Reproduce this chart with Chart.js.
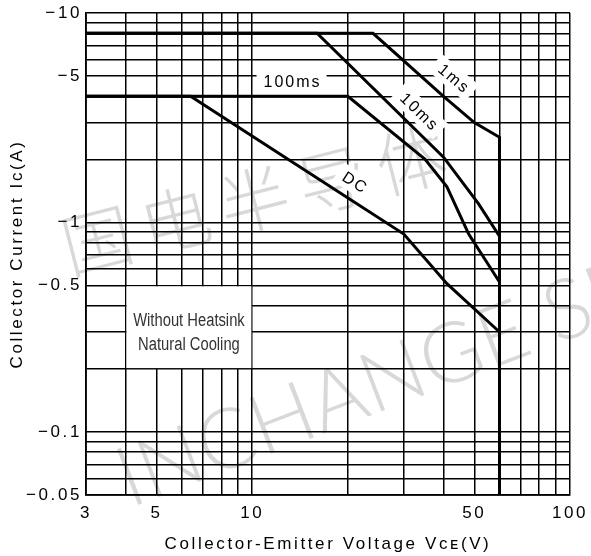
<!DOCTYPE html>
<html>
<head>
<meta charset="utf-8">
<script src="https://cdn.jsdelivr.net/npm/chart.js@4.4.1/dist/chart.umd.min.js"></script>
<style>
html, body { margin: 0; padding: 0; background: #fff; }
#wrap { width: 591px; height: 556px; }
</style>
</head>
<body>
<div id="wrap"><canvas id="soa"></canvas></div>
<script>
// GRID AND TICK LABELS (VCE in V, |IC| in A)
const xGrid = [3, 4, 5, 6, 7, 8, 9, 10, 20, 30, 40, 50, 60, 70, 80, 90, 100];
const xLabels = [3, 5, 10, 50, 100];
const yGrid = [0.05, 0.06, 0.07, 0.08, 0.09, 0.1, 0.2, 0.3, 0.4, 0.5, 0.6, 0.7, 0.8, 0.9, 1, 2, 3, 4, 5, 6, 7, 8, 9, 10];
const yLabels = [10, 5, 1, 0.5, 0.1, 0.05];

// SAFE OPERATING AREA CURVES
const dcV = [3, 6.4, 13, 30, 41, 60];
const dcI = [4, 4, 2.0, 0.88, 0.51, 0.3];
const ms100V = [3, 20, 35, 41, 48, 60];
const ms100I = [4, 4, 2.0, 1.48, 0.88, 0.52];
const ms10V = [3, 16, 40, 51.5, 60];
const ms10I = [8, 8, 2.05, 1.23, 0.86];
const ms1V = [3, 24, 40, 50, 60, 60];
const ms1I = [8, 8, 4, 3.0, 2.55, 0.05];

// labels put on the curves
const curveNotes = [
  { text: '100ms', v: 13.3, i: 4.73, angle: 0 },
  { text: '1ms', v: 43, i: 4.9, angle: 40 },
  { text: '10ms', v: 33.5, i: 3.4, angle: 44 },
  { text: 'DC', v: 21, i: 1.56, angle: 33 }
];
const noteLines = ['Without Heatsink', 'Natural Cooling'];

const FONT = '"Liberation Sans", Arial, sans-serif';
const SPACING = '2.6px';

function pts(vs, is) {
  return vs.map((v, k) => ({ x: v, y: is[k] }));
}

function curve(data) {
  return { data: data, borderColor: '#000', borderWidth: 3, pointRadius: 0, fill: false, tension: 0 };
}

// watermark, label boxes, letter spacing
const decor = {
  id: 'decor',
  beforeLayout(chart) {
    chart.ctx.letterSpacing = SPACING;
  },
  beforeDraw(chart) {
    const ctx = chart.ctx;
    ctx.letterSpacing = SPACING;
    ctx.save();
    ctx.fillStyle = '#fff';
    ctx.fillRect(0, 0, chart.width, chart.height);
    ctx.letterSpacing = '0px';
    ctx.fillStyle = '#d8d8d8';
    ctx.textAlign = 'center';
    ctx.textBaseline = 'middle';

    ctx.save();
    ctx.translate(97, 240);
    ctx.rotate(-14.3 * Math.PI / 180);
    ctx.font = '300 70px "Noto Sans CJK SC", sans-serif';
    const wm = '国电半导体';
    for (let k = 0; k < wm.length; k++) {
      ctx.fillText(wm[k], k * 81, 0);
    }
    ctx.restore();

    ctx.save();
    ctx.translate(130, 508);
    ctx.rotate(-21 * Math.PI / 180);
    ctx.font = '300 84px Lato, "Open Sans", sans-serif';
    ctx.textAlign = 'left';
    ctx.textBaseline = 'alphabetic';
    ctx.fillText('INCHANGE SEMI', 0, 0);
    ctx.restore();

    ctx.restore();
  },
  beforeDatasetsDraw(chart) {
    const ctx = chart.ctx;
    const x = chart.scales.x, y = chart.scales.y;

    // box with the cooling note
    const bx1 = x.getPixelForValue(4), bx2 = x.getPixelForValue(10);
    const by1 = y.getPixelForValue(0.5), by2 = y.getPixelForValue(0.2);
    ctx.save();
    ctx.fillStyle = '#fff';
    ctx.fillRect(bx1 + 0.8, by1 + 0.8, bx2 - bx1 - 1.6, by2 - by1 - 1.6);
    ctx.letterSpacing = '0px';
    ctx.fillStyle = '#333';
    ctx.font = '18px ' + FONT;
    ctx.textAlign = 'center';
    ctx.textBaseline = 'middle';
    const h = by2 - by1;
    ctx.translate((bx1 + bx2) / 2, by1);
    ctx.scale(0.82, 1);
    ctx.fillText(noteLines[0], 0, 0.42 * h);
    ctx.fillText(noteLines[1], 0, 0.71 * h);
    ctx.restore();

    curveNotes.forEach(n => {
      const px = x.getPixelForValue(n.v), py = y.getPixelForValue(n.i);
      ctx.save();
      ctx.translate(px, py);
      ctx.rotate(n.angle * Math.PI / 180);
      ctx.letterSpacing = '2px';
      ctx.font = '16px ' + FONT;
      const w = ctx.measureText(n.text).width;
      ctx.fillStyle = '#fff';
      ctx.fillRect(-w / 2 - 6, -11, w + 12, 22);
      ctx.fillStyle = '#000';
      ctx.textAlign = 'center';
      ctx.textBaseline = 'middle';
      ctx.fillText(n.text, 1, 1);
      ctx.restore();
    });
  }
};

const soaChart = new Chart(document.getElementById('soa'), {
  type: 'line',
  data: {
    datasets: [
      curve(pts(dcV, dcI)),
      curve(pts(ms100V, ms100I)),
      curve(pts(ms10V, ms10I)),
      curve(pts(ms1V, ms1I))
    ]
  },
  options: {
    responsive: true,
    maintainAspectRatio: false,
    animation: false,
    layout: { padding: { left: 0, right: 21, top: 13, bottom: 0 } },
    plugins: {
      legend: { display: false },
      tooltip: { enabled: false }
    },
    scales: {
      x: {
        type: 'logarithmic',
        min: 3,
        max: 100,
        afterBuildTicks: ax => { ax.ticks = xGrid.map(v => ({ value: v })); },
        afterFit: ax => { ax.height = 61; ax.paddingLeft = 0; ax.paddingRight = 0; },
        grid: { color: '#000', lineWidth: 1.5, drawTicks: false },
        border: { color: '#000', width: 1.8 },
        ticks: {
          autoSkip: false,
          maxRotation: 0,
          padding: 8,
          color: '#000',
          font: { family: FONT, size: 17 },
          callback: v => xLabels.includes(v) ? String(v) : ''
        },
        title: {
          display: true,
          text: 'Collector-Emitter Voltage Vᴄᴇ(V)',
          color: '#000',
          font: { family: FONT, size: 17 },
          padding: { top: 0, bottom: 1 }
        }
      },
      y: {
        type: 'logarithmic',
        min: 0.05,
        max: 10,
        afterBuildTicks: ax => { ax.ticks = yGrid.map(v => ({ value: v })); },
        afterFit: ax => { ax.width = 86; ax.paddingTop = 0; ax.paddingBottom = 0; },
        grid: { color: '#000', lineWidth: 1.5, drawTicks: false },
        border: { color: '#000', width: 1.8 },
        ticks: {
          autoSkip: false,
          padding: 4,
          color: '#000',
          font: { family: FONT, size: 17 },
          callback: v => yLabels.includes(v) ? '\u2212' + v : ''
        },
        title: {
          display: true,
          text: 'Collector Current Iᴄ(A)',
          color: '#000',
          font: { family: FONT, size: 17 },
          padding: { top: 7, bottom: 0 }
        }
      }
    }
  },
  plugins: [decor]
});
</script>
</body>
</html>
